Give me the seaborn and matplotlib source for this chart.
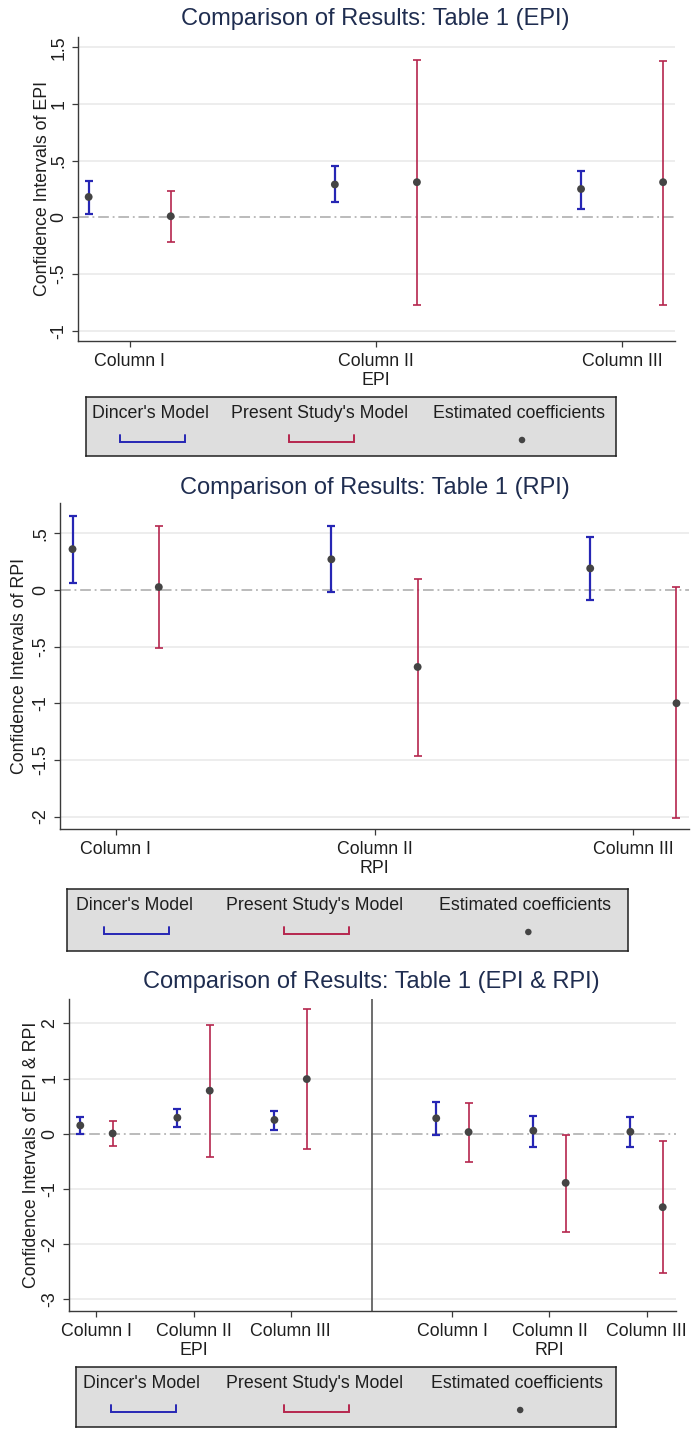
import numpy as np
import pandas as pd
import matplotlib
matplotlib.use("Agg")
import matplotlib.pyplot as plt
import seaborn as sns

# Column labels of Table 1
columns = ["Column I", "Column II", "Column III"]

# Table 1 (EPI): estimates and confidence bounds
epi_dincer_coef = [0.18, 0.29, 0.25]
epi_dincer_low = [0.03, 0.135, 0.075]
epi_dincer_high = [0.32, 0.45, 0.41]
epi_present_coef = [0.01, 0.31, 0.31]
epi_present_low = [-0.22, -0.77, -0.77]
epi_present_high = [0.23, 1.39, 1.38]

# Table 1 (RPI)
rpi_dincer_coef = [0.36, 0.27, 0.19]
rpi_dincer_low = [0.06, -0.02, -0.09]
rpi_dincer_high = [0.655, 0.565, 0.47]
rpi_present_coef = [0.025, -0.68, -1.0]
rpi_present_low = [-0.515, -1.465, -2.015]
rpi_present_high = [0.56, 0.095, 0.025]

# Table 1 (EPI & RPI): EPI block and RPI block
both_epi_dincer_coef = [0.15, 0.29, 0.25]
both_epi_dincer_low = [0.0, 0.115, 0.06]
both_epi_dincer_high = [0.31, 0.45, 0.42]
both_epi_present_coef = [0.005, 0.78, 0.99]
both_epi_present_low = [-0.22, -0.415, -0.28]
both_epi_present_high = [0.23, 1.97, 2.25]
both_rpi_dincer_coef = [0.28, 0.055, 0.035]
both_rpi_dincer_low = [-0.025, -0.235, -0.235]
both_rpi_dincer_high = [0.57, 0.33, 0.31]
both_rpi_present_coef = [0.03, -0.89, -1.33]
both_rpi_present_low = [-0.51, -1.78, -2.52]
both_rpi_present_high = [0.56, -0.03, -0.14]

epi_yticks = [-1, -0.5, 0, 0.5, 1, 1.5]
rpi_yticks = [-2, -1.5, -1, -0.5, 0, 0.5]
both_yticks = [-3, -2, -1, 0, 1, 2]

legend_labels = ["Dincer's Model", "Present Study's Model", "Estimated coefficients"]

# ---- style ----
sns.set_theme(style="white")
plt.rcParams["font.family"] = ["Liberation Sans", "DejaVu Sans"]

BLUE = "#2626b4"
RED = "#b5264e"
DOT = "#444444"
TITLE_C = "#1f2d50"
GRID_C = "#ececec"
AXIS_C = "#3a3a3a"
TEXT_C = "#1e1e1e"

W, H = 693, 1439
fig = plt.figure(figsize=(W / 100, H / 100), dpi=100)
fig.patch.set_facecolor("white")


def px_axes(l, t, r, b):
    return fig.add_axes([l / W, 1 - b / H, (r - l) / W, (b - t) / H])


def stata_label(v):
    s = f"{v:g}"
    return s.replace("0.", ".")


def draw_model(ax, pos, coef, low, high, color, lw):
    coef = np.asarray(coef, float)
    low = np.asarray(low, float)
    high = np.asarray(high, float)
    ax.errorbar(pos, coef, yerr=[coef - low, high - coef], fmt="none",
                ecolor=color, elinewidth=lw, capsize=2.8, capthick=lw, zorder=3)
    df = pd.DataFrame({"pos": pos, "coef": coef})
    sns.scatterplot(data=df, x="pos", y="coef", ax=ax, color=DOT, s=32,
                    edgecolor="none", linewidth=0, zorder=4, legend=False)


def style_axes(ax, xlim, ylim, yticks, xticks, xticklabels, ylabel, labelpad):
    ax.set_xlim(*xlim)
    ax.set_ylim(*ylim)
    ax.set_yticks(yticks)
    ax.set_yticklabels([stata_label(v) for v in yticks])
    ax.set_xticks(xticks)
    ax.set_xticklabels(xticklabels)
    for v in yticks:
        if v != 0:
            ax.axhline(v, color=GRID_C, lw=1.3, zorder=0)
    ax.axhline(0, color="#a8a8a8", lw=1.1, dashes=(7, 2.5, 1.2, 2.5), zorder=1)
    for side in ("top", "right"):
        ax.spines[side].set_visible(False)
    for side in ("left", "bottom"):
        ax.spines[side].set_color(AXIS_C)
        ax.spines[side].set_linewidth(1.0)
    ax.tick_params(axis="both", direction="out", length=4.5, width=0.9,
                   color=AXIS_C, labelsize=12.8, labelcolor=TEXT_C,
                   left=True, bottom=True)
    ax.tick_params(axis="x", pad=4)
    ax.tick_params(axis="y", pad=3)
    for lab in ax.get_yticklabels():
        lab.set_rotation(90)
        lab.set_va("center")
        lab.set_ha("right")
    ax.set_xlabel("")
    ax.set_ylabel(ylabel, fontsize=12.8, color=TEXT_C, labelpad=labelpad)
    ax.set_facecolor("white")


def draw_legend(l, t, r, b):
    lax = px_axes(l, t, r, b)
    lax.set_facecolor("#dedede")
    lax.set_xlim(0, 1)
    lax.set_ylim(0, 1)
    lax.set_xticks([])
    lax.set_yticks([])
    for sp in lax.spines.values():
        sp.set_visible(True)
        sp.set_color("#202020")
        sp.set_linewidth(1.1)
    width = r - l
    height = b - t
    centers = [0.121, 0.441, 0.817]
    text_y = 1 - 17 / height
    key_top = 1 - 38 / height
    key_bot = 1 - 45 / height
    half = 32.5 / width
    for cx, lab in zip(centers, legend_labels):
        lax.text(cx, text_y, lab, ha="center", va="center", fontsize=12.8,
                 color=TEXT_C)
    for cx, col, lw in ((centers[0] + 2 / width, BLUE, 1.4),
                        (centers[1] + 2 / width, RED, 1.4)):
        lax.plot([cx - half, cx - half, cx + half, cx + half],
                 [key_top, key_bot, key_bot, key_top], color=col, lw=lw,
                 solid_joinstyle="miter")
    lax.scatter([centers[2] + 3 / width], [1 - 43 / height], s=22, color=DOT,
                edgecolor="none")


offsets = np.array([-1 / 6, 1 / 6])
base = np.arange(1, len(columns) + 1, dtype=float)

# ---- Panel 1: EPI ----
ax1 = px_axes(78, 37, 675, 341)
draw_model(ax1, base + offsets[0], epi_dincer_coef, epi_dincer_low, epi_dincer_high, BLUE, 1.6)
draw_model(ax1, base + offsets[1], epi_present_coef, epi_present_low, epi_present_high, RED, 1.2)
style_axes(ax1, (0.79, 3.215), (-1.09, 1.59), epi_yticks, base,
           [columns[0], columns[1] + "\nEPI", columns[2]],
           "Confidence Intervals of EPI", labelpad=0)
fig.text(375 / W, 1 - 19 / H, "Comparison of Results: Table 1 (EPI)", ha="center",
         va="center", fontsize=17, color=TITLE_C)
draw_legend(86, 397, 616, 456)

# ---- Panel 2: RPI ----
ax2 = px_axes(60, 503, 689, 829)
draw_model(ax2, base + offsets[0], rpi_dincer_coef, rpi_dincer_low, rpi_dincer_high, BLUE, 1.6)
draw_model(ax2, base + offsets[1], rpi_present_coef, rpi_present_low, rpi_present_high, RED, 1.2)
style_axes(ax2, (0.785, 3.215), (-2.11, 0.767), rpi_yticks, base,
           [columns[0], columns[1] + "\nRPI", columns[2]],
           "Confidence Intervals of RPI", labelpad=3)
fig.text(375 / W, 1 - 488 / H, "Comparison of Results: Table 1 (RPI)", ha="center",
         va="center", fontsize=17, color=TITLE_C)
draw_legend(67, 889, 628, 951)

# ---- Panel 3: EPI & RPI ----
ax3 = px_axes(69, 999, 676, 1311)
block_shift = 3 + 2 / 3
epi_pos = base
rpi_pos = base + block_shift
draw_model(ax3, epi_pos + offsets[0], both_epi_dincer_coef, both_epi_dincer_low, both_epi_dincer_high, BLUE, 1.6)
draw_model(ax3, epi_pos + offsets[1], both_epi_present_coef, both_epi_present_low, both_epi_present_high, RED, 1.2)
draw_model(ax3, rpi_pos + offsets[0], both_rpi_dincer_coef, both_rpi_dincer_low, both_rpi_dincer_high, BLUE, 1.6)
draw_model(ax3, rpi_pos + offsets[1], both_rpi_present_coef, both_rpi_present_low, both_rpi_present_high, RED, 1.2)
style_axes(ax3, (0.717, 6.97), (-3.21, 2.44), both_yticks,
           np.concatenate([epi_pos, rpi_pos]),
           [columns[0], columns[1] + "\nEPI", columns[2],
            columns[0], columns[1] + "\nRPI", columns[2]],
           "Confidence Intervals of EPI & RPI", labelpad=1)
ax3.axvline((epi_pos[-1] + rpi_pos[0]) / 2, color="#555555", lw=1.2, zorder=2)
fig.text(371 / W, 1 - 982 / H, "Comparison of Results: Table 1 (EPI & RPI)", ha="center",
         va="center", fontsize=17, color=TITLE_C)
draw_legend(76, 1367, 616, 1427)

fig.savefig("out.png", dpi=100, facecolor="white")
